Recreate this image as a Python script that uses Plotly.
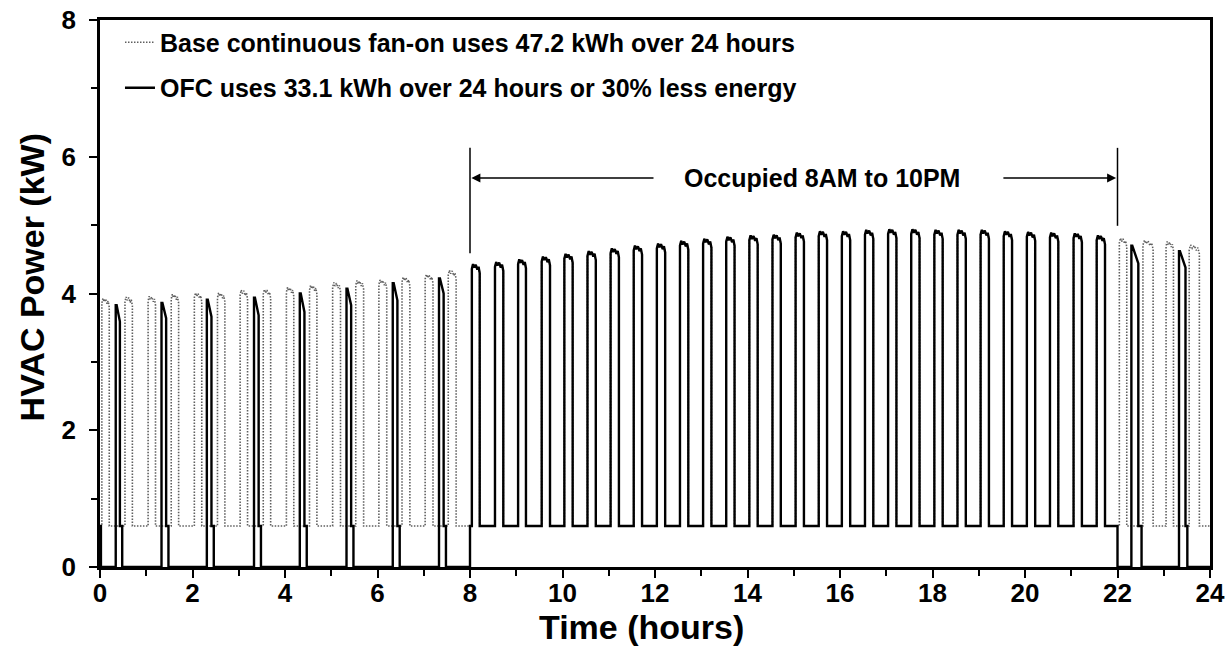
import plotly.graph_objects as go

# ---------------- data ----------------
FAN_KW = 0.6  # fan-only power level (kW)

# Base continuous fan-on: compressor cycles (start hour, on-duration h, peak kW)
base_start = [0.04, 0.54, 1.04, 1.54, 2.04, 2.54, 3.03, 3.53, 4.03, 4.53, 5.03, 5.53,
              6.03, 6.53, 7.03, 7.53, 8.04, 8.54, 9.04, 9.55, 10.04, 10.54, 11.04, 11.54,
              12.04, 12.54, 13.04, 13.54, 14.04, 14.54, 15.04, 15.54, 16.04, 16.54, 17.04, 17.54,
              18.04, 18.54, 19.04, 19.54, 20.04, 20.54, 21.05, 21.55, 22.04, 22.55, 23.05, 23.55]
base_dur = [0.16, 0.16, 0.16, 0.16, 0.16, 0.16, 0.16, 0.16, 0.16, 0.16, 0.17, 0.17,
            0.17, 0.17, 0.17, 0.17, 0.17, 0.18, 0.17, 0.18, 0.18, 0.18, 0.18, 0.18,
            0.18, 0.18, 0.18, 0.18, 0.18, 0.18, 0.18, 0.18, 0.18, 0.18, 0.18, 0.18,
            0.18, 0.18, 0.18, 0.18, 0.18, 0.18, 0.18, 0.18, 0.16, 0.22, 0.16, 0.22]
base_peak = [3.86, 3.88, 3.89, 3.92, 3.94, 3.94, 3.98, 3.99, 4.02, 4.05, 4.09, 4.12,
             4.13, 4.17, 4.21, 4.27, 4.36, 4.39, 4.43, 4.47, 4.51, 4.55, 4.59, 4.63,
             4.66, 4.70, 4.73, 4.76, 4.78, 4.79, 4.82, 4.84, 4.84, 4.86, 4.87, 4.87,
             4.86, 4.86, 4.86, 4.84, 4.83, 4.82, 4.81, 4.78, 4.74, 4.71, 4.69, 4.64]

# OFC outside occupied hours: compressor+fan cycles, then fan-off delay, then all off
ofc_start = [0.34, 1.33, 2.31, 3.33, 4.32, 5.33, 6.33, 7.33, 22.30, 23.33]
ofc_comp = [0.09, 0.10, 0.10, 0.10, 0.10, 0.10, 0.10, 0.10, 0.15, 0.14]
ofc_delay = [0.05, 0.05, 0.05, 0.05, 0.05, 0.05, 0.05, 0.05, 0.07, 0.04]
ofc_peak_on = [3.83, 3.86, 3.91, 3.94, 4.00, 4.07, 4.15, 4.22, 4.70, 4.62]
ofc_peak_off = [3.59, 3.64, 3.66, 3.68, 3.73, 3.83, 3.90, 4.00, 4.44, 4.38]
ofc_initial_fan_end = 0.02
OCC_START, OCC_END = 8.0, 22.0

x_tick_vals = [0, 2, 4, 6, 8, 10, 12, 14, 16, 18, 20, 22, 24]
y_tick_vals = [0, 2, 4, 6, 8]

legend_base = "Base continuous fan-on uses 47.2 kWh over 24 hours"
legend_ofc = "OFC uses 33.1 kWh over 24 hours or 30% less energy"
occupied_label = "Occupied 8AM to 10PM"
x_title = "Time (hours)"
y_title = "HVAC Power (kW)"

# jagged top of each compressor-on plateau (relative position, kW offset)
TOP_FRAC = [0.0, 0.15, 0.3, 0.5, 0.7, 0.85, 1.0]
TOP_OFF = [0.0, 0.07, 0.02, 0.06, -0.01, 0.03, -0.06]


def add_plateau(xs, ys, s, d, p, low):
    xs.append(s); ys.append(low)
    for f, o in zip(TOP_FRAC, TOP_OFF):
        xs.append(s + f * d); ys.append(p + o)
    xs.append(s + d); ys.append(low)


# ---- base series ----
bx, by = [0.0], [FAN_KW]
for s, d, p in zip(base_start, base_dur, base_peak):
    add_plateau(bx, by, s, d, p, FAN_KW)
bx.append(24.0); by.append(FAN_KW)

# ---- OFC series ----
ox, oy = [0.0, ofc_initial_fan_end, ofc_initial_fan_end], [FAN_KW, FAN_KW, 0.0]
unocc = list(zip(ofc_start, ofc_comp, ofc_delay, ofc_peak_on, ofc_peak_off))


def add_unocc(s, c, f, p1, p2):
    ox.extend([s, s, s + 0.02, s + c, s + c, s + c + f, s + c + f])
    oy.extend([0.0, p1, p1, p2, FAN_KW, FAN_KW, 0.0])


for cyc in unocc:
    if cyc[0] < OCC_START:
        add_unocc(*cyc)
ox.extend([OCC_START, OCC_START]); oy.extend([0.0, FAN_KW])
for s, d, p in zip(base_start, base_dur, base_peak):
    if OCC_START <= s < OCC_END:
        add_plateau(ox, oy, s, d, p, FAN_KW)
ox.extend([OCC_END, OCC_END]); oy.extend([FAN_KW, 0.0])
for cyc in unocc:
    if cyc[0] >= OCC_END:
        add_unocc(*cyc)
ox.append(24.0); oy.append(0.0)

FONT = "Liberation Sans, Arial, sans-serif"

fig = go.Figure()
fig.add_trace(go.Scatter(x=bx, y=by, mode="lines", name=legend_base, legendgroup="a",
                         line=dict(color="#5f5f5f", width=1.6, dash="1.5px,1.5px")))
fig.add_trace(go.Scatter(x=ox, y=oy, mode="lines", name=legend_ofc, legendgroup="b",
                         line=dict(color="#000000", width=2.4)))

# occupied-period markers
ARROW_Y = 5.69
fig.add_shape(type="line", x0=OCC_START, x1=OCC_START, y0=4.59, y1=6.13,
              line=dict(color="black", width=1.5))
fig.add_shape(type="line", x0=OCC_END, x1=OCC_END, y0=4.99, y1=6.13,
              line=dict(color="black", width=1.5))
fig.add_annotation(x=OCC_START + 0.03, y=ARROW_Y, ax=12.0, ay=ARROW_Y, axref="x", ayref="y",
                   text="", showarrow=True, arrowhead=2, arrowsize=1.2, arrowwidth=1.5,
                   arrowcolor="black", standoff=0, startstandoff=0)
fig.add_annotation(x=OCC_END - 0.03, y=ARROW_Y, ax=19.5, ay=ARROW_Y, axref="x", ayref="y",
                   text="", showarrow=True, arrowhead=2, arrowsize=1.2, arrowwidth=1.5,
                   arrowcolor="black", standoff=0, startstandoff=0)
fig.add_annotation(x=15.6, y=ARROW_Y, text=occupied_label, showarrow=False,
                   font=dict(family=FONT, size=25, color="black", weight="bold"))

# axis titles (placed as in the reference, slightly off-centre)
title_font = dict(family=FONT, size=34, color="black", weight="bold")
fig.add_annotation(xref="paper", yref="paper", x=-0.061, y=0.53, text=y_title,
                   textangle=-90, showarrow=False, xanchor="center", yanchor="middle",
                   font=title_font)
fig.add_annotation(xref="paper", yref="paper", x=0.488, y=-0.11, text=x_title,
                   showarrow=False, xanchor="center", yanchor="middle", font=title_font)

axis_common = dict(showgrid=False, zeroline=False, showline=True, linecolor="black",
                   linewidth=2.5, mirror=True, ticks="outside", ticklen=8, tickwidth=2,
                   tickcolor="black", automargin=False, ticklabeloverflow="allow",
                   tickfont=dict(family=FONT, size=26, color="black", weight="bold"))

fig.update_layout(
    width=1231, height=660,
    margin=dict(l=100, r=21, t=20, b=93),
    paper_bgcolor="white", plot_bgcolor="white",
    font=dict(family=FONT, color="black"),
    showlegend=True,
    legend=dict(x=0.018, y=1.001, xanchor="left", yanchor="top",
                bgcolor="rgba(0,0,0,0)", borderwidth=0,
                font=dict(family=FONT, size=25, color="black", weight="bold"),
                traceorder="grouped", tracegroupgap=10, itemwidth=30),
    xaxis=dict(range=[0, 24], tickvals=x_tick_vals, ticklabelstandoff=-7,
               minor=dict(dtick=1, ticks="outside", ticklen=6, tickwidth=2, tickcolor="black"),
               **axis_common),
    yaxis=dict(range=[0, 8], tickvals=y_tick_vals, ticklabelstandoff=8,
               minor=dict(dtick=1, ticks="outside", ticklen=6, tickwidth=2, tickcolor="black"),
               **axis_common),
)

# the page body's default 8px margin would shift the figure; remove it
fig.write_html("out.html", config={"displayModeBar": False},
               post_script="document.body.style.margin='0';")
